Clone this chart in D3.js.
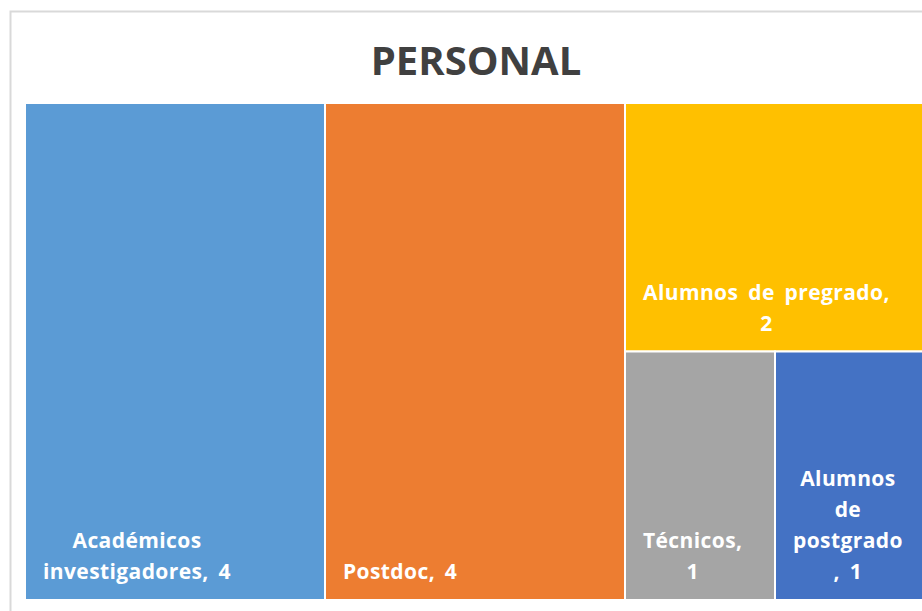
<html>
<head>
<meta charset="utf-8">
<script src="https://d3js.org/d3.v7.min.js"></script>
<style>
body { margin: 0; background: #fff; }
text { font-family: 'Open Sans', Calibri, sans-serif; }
</style>
</head>
<body>
<div id="chart"></div>
<script>

var width = 922;
var height = 611;

// chart values
var categories = ["Académicos investigadores", "Postdoc", "Alumnos de pregrado", "Técnicos", "Alumnos de postgrado"];
var values = [4, 4, 2, 1, 1];
var colors = ["#5B9BD5", "#ED7D31", "#FFC000", "#A5A5A5", "#4472C4"];
// label lines as wrapped in the original
var labelLines = [
  ["Académicos", "investigadores, 4"],
  ["Postdoc, 4"],
  ["Alumnos de pregrado,", "2"],
  ["Técnicos,", "1"],
  ["Alumnos", "de", "postgrado", ", 1"]
];
var title = "PERSONAL";

var svg = d3.select("#chart").append("svg")
  .attr("width", width).attr("height", height);

// outer chart border (runs past the window edge)
svg.append("rect")
  .attr("x", 10.5).attr("y", 11.5)
  .attr("width", 940).attr("height", 640)
  .style("fill", "none")
  .style("stroke", "#d9d9d9")
  .style("stroke-width", 2);

svg.append("text")
  .attr("x", 476).attr("y", 75)
  .attr("text-anchor", "middle")
  .style("font-size", "40px")
  .style("font-weight", 700)
  .style("fill", "#404040")
  .text(title);

var items = categories.map(function (c, i) {
  return { name: c, value: values[i], color: colors[i], lines: labelLines[i] };
});

var root = d3.hierarchy({ children: items })
  .sum(function (d) { return d.value || 0; })
  .sort(function (a, b) { return b.value - a.value; });

var plotW = 900, plotH = 497;
d3.treemap()
  .tile(d3.treemapSquarify.ratio(1))
  .size([plotW, plotH])(root);

var plot = svg.append("g").attr("transform", "translate(25,103)");

var cells = plot.selectAll("g.cell").data(root.leaves())
  .enter().append("g").attr("class", "cell");

cells.append("rect")
  .attr("x", function (d) { return d.x0; })
  .attr("y", function (d) { return d.y0; })
  .attr("width", function (d) { return d.x1 - d.x0; })
  .attr("height", function (d) { return d.y1 - d.y0; })
  .style("fill", function (d) { return d.data.color; })
  .style("stroke", "#fff")
  .style("stroke-width", 2);

var lineHeight = 31;
var pad = 18;

cells.each(function (d) {
  var g = d3.select(this);
  var lines = d.data.lines;
  var txt = g.append("text")
    .attr("text-anchor", "middle")
    .style("font-size", "21px")
    .style("font-weight", 700)
    .style("letter-spacing", "0.4px")
    .style("word-spacing", "4px")
    .style("fill", "#fff");
  var spans = txt.selectAll("tspan").data(lines).enter().append("tspan")
    .attr("y", function (l, i) { return d.y1 - 21 - (lines.length - 1 - i) * lineHeight; })
    .text(function (l) { return l; });
  // block is left aligned in the cell, lines centered within the block
  var blockW = 0;
  spans.each(function () { blockW = Math.max(blockW, this.getComputedTextLength()); });
  spans.attr("x", d.x0 + pad + blockW / 2);
});

</script>
</body>
</html>
